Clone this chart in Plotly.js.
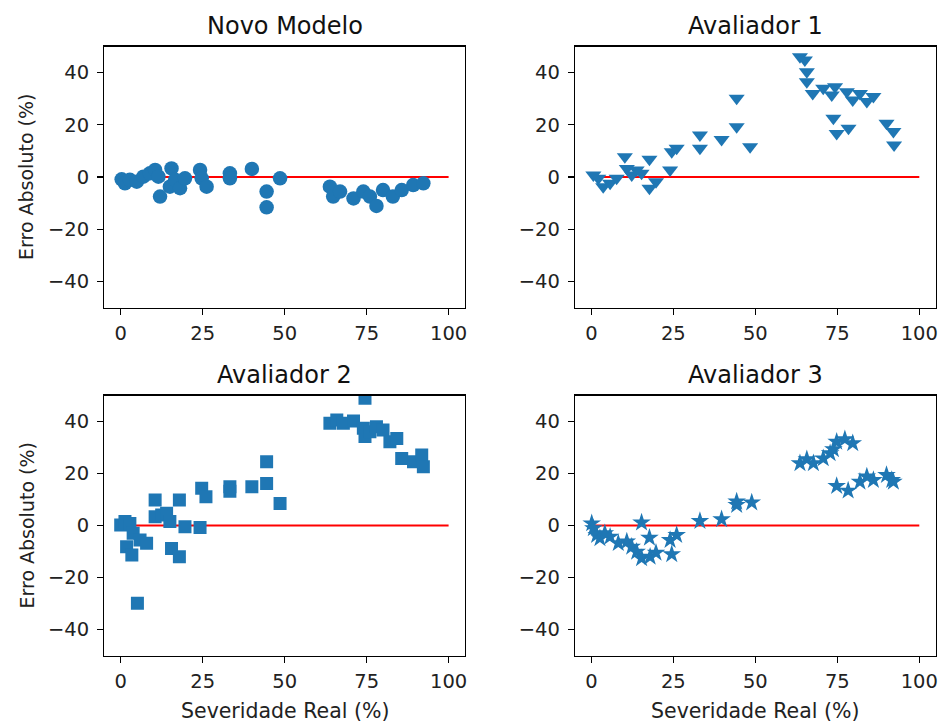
<!DOCTYPE html>
<html>
<head>
<meta charset="utf-8">
<script src="https://cdn.plot.ly/plotly-3.0.1.min.js"></script>
<style>html,body{margin:0;padding:0;background:#fff}#chart{width:944px;height:724px}</style>
</head>
<body>
<div id="chart"></div>
<script>
// ---- Data ----
var panelTitles = ["Novo Modelo", "Avaliador 1", "Avaliador 2", "Avaliador 3"];
var xTickVals = [0, 25, 50, 75, 100];
var yTickVals = [-40, -20, 0, 20, 40];
var yTickText = ["\u221240", "\u221220", "0", "20", "40"];
var refLineX = [0, 100];
var refLineY = [0, 0];

var novoX = [0.3, 1.3, 2.8, 4.9, 6.9, 8.9, 10.5, 12.0, 11.5, 15.5, 15.0, 16.6, 18.1, 19.6, 24.2, 24.7, 26.2, 33.3, 33.3, 40.0, 44.5, 44.5, 48.6, 63.8, 64.8, 66.9, 71.0, 74.0, 76.0, 78.0, 80.0, 83.0, 85.7, 89.2, 92.3];
var novoY = [-0.9, -2.4, -1.1, -1.8, 0.1, 1.4, 2.7, -7.5, 0.1, 3.3, -3.7, -1.1, -4.3, -0.5, 2.7, -0.5, -3.7, 1.4, -0.5, 3.1, -5.6, -11.6, -0.5, -3.7, -7.5, -5.6, -8.2, -5.6, -7.5, -11.1, -5.0, -7.5, -5.0, -3.1, -2.4];

var av1X = [0.6, 2.1, 3.6, 5.7, 7.7, 10.2, 10.8, 12.3, 13.8, 15.3, 17.7, 17.7, 19.7, 24.0, 24.5, 26.0, 33.1, 33.1, 39.7, 44.3, 44.3, 48.4, 63.6, 65.1, 65.7, 65.7, 67.5, 70.7, 73.3, 74.3, 73.8, 74.8, 77.9, 78.4, 79.7, 81.9, 84.0, 86.0, 90.0, 92.1, 92.3];
var av1Y = [0.8, -0.5, -3.7, -2.4, -0.5, 7.8, 3.3, 0.8, 2.7, 1.4, 6.8, -4.3, -1.8, 2.7, 9.7, 11.0, 16.1, 11.0, 14.4, 30.2, 19.3, 11.6, 46.1, 44.8, 40.3, 36.5, 32.0, 34.0, 31.4, 34.6, 22.5, 16.7, 32.7, 18.7, 29.5, 32.0, 28.9, 30.8, 20.6, 17.4, 12.3];

var av2X = [0.0, 1.3, 2.8, 3.8, 1.8, 3.4, 5.9, 7.9, 5.1, 10.5, 10.5, 12.5, 14.0, 15.0, 15.5, 17.9, 17.9, 19.6, 24.2, 24.7, 26.0, 33.3, 33.3, 40.0, 44.5, 44.5, 48.6, 63.8, 65.9, 67.9, 71.0, 74.5, 74.0, 74.5, 76.0, 78.0, 80.0, 82.1, 84.2, 85.7, 89.3, 91.8, 92.3];
var av2Y = [0.2, 1.5, 0.8, -3.0, -8.2, -11.3, -5.6, -6.8, -29.9, 9.8, 3.4, 4.0, 4.7, 1.5, -8.8, 9.8, -12.0, -0.5, -0.8, 14.3, 11.1, 14.9, 13.2, 14.9, 24.5, 16.2, 8.5, 39.3, 40.6, 39.3, 40.2, 48.9, 37.4, 34.2, 36.1, 38.0, 36.7, 32.2, 33.5, 25.8, 24.5, 27.1, 22.6];

var av3X = [0.1, 0.6, 1.6, 2.6, 4.1, 5.7, 8.2, 10.8, 12.3, 13.8, 15.3, 15.3, 17.7, 17.9, 19.7, 24.0, 24.5, 26.0, 33.1, 39.7, 44.3, 44.3, 48.9, 63.6, 65.7, 67.7, 70.7, 72.8, 73.8, 74.8, 77.3, 79.7, 74.8, 78.3, 81.9, 84.0, 86.0, 90.0, 91.6, 92.1];
var av3Y = [0.8, -1.1, -3.7, -4.9, -3.0, -4.3, -6.8, -6.2, -8.2, -10.1, -12.6, 1.1, -4.7, -12.0, -10.5, -5.6, -11.1, -3.7, 1.7, 2.4, 9.2, 7.9, 8.8, 23.9, 25.5, 23.9, 25.8, 27.8, 29.3, 32.2, 33.2, 31.6, 15.2, 13.4, 16.8, 18.8, 17.5, 19.4, 17.5, 16.8];

var panelX = [novoX, av1X, av2X, av3X];
var panelY = [novoY, av1Y, av2Y, av3Y];
var symbols = ["circle", "triangle-down", "square", "star"];
var sizes = [14.5, 14, 13, 14];

// ---- Layout geometry ----
var W = 944, H = 724;
var xDomains = [[104.3 / W, 465 / W], [575 / W, 935.7 / W]];
var yDomains = [[1 - 307.5 / H, 1 - 46.5 / H], [1 - 655.5 / H, 1 - 395.5 / H]];
var font = "DejaVu Sans, Liberation Sans, sans-serif";

var data = [];
var layout = {
  width: W, height: H,
  margin: {l: 0, r: 0, t: 0, b: 0},
  paper_bgcolor: "#fff", plot_bgcolor: "#fff",
  showlegend: false,
  annotations: []
};

for (var i = 0; i < 4; i++) {
  var col = i % 2, row = Math.floor(i / 2);
  var sfx = i === 0 ? "" : String(i + 1);
  var xa = "x" + sfx, ya = "y" + sfx;
  data.push({
    x: refLineX, y: refLineY, xaxis: xa, yaxis: ya,
    mode: "lines", line: {color: "red", width: 2.2}, hoverinfo: "skip"
  });
  data.push({
    x: panelX[i], y: panelY[i], xaxis: xa, yaxis: ya,
    mode: "markers", type: "scatter",
    marker: {symbol: symbols[i], size: sizes[i], color: "#1f77b4", line: {width: 0}}
  });
  var axCommon = {
    showgrid: false, zeroline: false, showline: true, mirror: true,
    linecolor: "#000", linewidth: 1.3,
    ticks: "outside", ticklen: 6, tickwidth: 1.3, tickcolor: "#000",
    tickfont: {family: font, size: 19.5, color: "#222"}
  };
  layout["xaxis" + sfx] = Object.assign({}, axCommon, {
    domain: xDomains[col], range: [-5, 105], anchor: ya,
    tickmode: "array", tickvals: xTickVals, ticklabelstandoff: 2
  });
  layout["yaxis" + sfx] = Object.assign({}, axCommon, {
    domain: yDomains[row], range: [-50, 50], anchor: xa,
    tickmode: "array", tickvals: yTickVals, ticktext: yTickText, ticklabelstandoff: 4
  });
  // subplot title
  layout.annotations.push({
    text: panelTitles[i], xref: "paper", yref: "paper",
    x: (xDomains[col][0] + xDomains[col][1]) / 2, y: yDomains[row][1],
    xanchor: "center", yanchor: "bottom", yshift: 5, showarrow: false,
    font: {family: font, size: 24, color: "#111"}
  });
  if (col === 0) {
    layout.annotations.push({
      text: "Erro Absoluto (%)", xref: "paper", yref: "paper",
      x: 26 / W, y: (yDomains[row][0] + yDomains[row][1]) / 2,
      xanchor: "center", yanchor: "middle", textangle: -90, showarrow: false,
      font: {family: font, size: 19, color: "#222"}
    });
  }
  if (row === 1) {
    layout.annotations.push({
      text: "Severidade Real (%)", xref: "paper", yref: "paper",
      x: (xDomains[col][0] + xDomains[col][1]) / 2, y: 1 - 711 / H,
      xanchor: "center", yanchor: "middle", showarrow: false,
      font: {family: font, size: 20.5, color: "#222"}
    });
  }
}

Plotly.newPlot("chart", data, layout, {staticPlot: true, displayModeBar: false});
</script>
</body>
</html>
